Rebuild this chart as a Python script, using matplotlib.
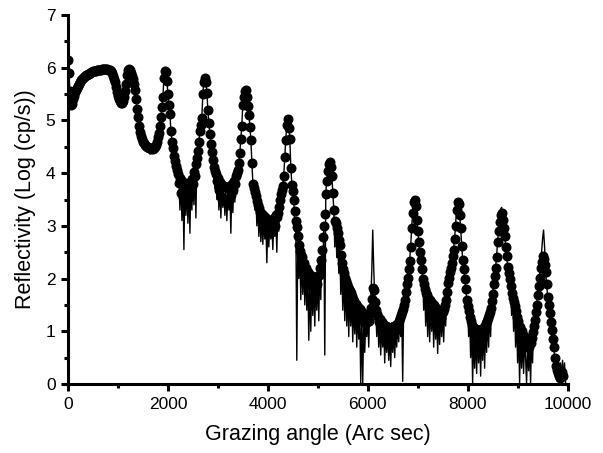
import numpy as np
import matplotlib
matplotlib.use("Agg")
import matplotlib.pyplot as plt
from matplotlib.ticker import MultipleLocator

plt.rcParams['font.family'] = ['Liberation Sans', 'DejaVu Sans']

# Grazing angle grid (arc sec) of the measured scan and of the simulation
meas_step = 20
meas_x = np.arange(0, 9920, meas_step)
sim_x = np.arange(0, 9980, meas_step)

# Measured reflectivity, log(cp/s)
meas_y = [
    6.15, 5.9, 5.55, 5.3, 5.32, 5.4, 5.47, 5.53, 5.58, 5.62, 5.66, 5.7, 5.73, 5.76, 5.78, 5.8, 5.82, 5.84, 5.86, 5.87,
    5.88, 5.89, 5.9, 5.91, 5.92, 5.93, 5.93, 5.94, 5.94, 5.95, 5.95, 5.96, 5.96, 5.96, 5.97, 5.97, 5.97, 5.97, 5.97, 5.97,
    5.96, 5.96, 5.95, 5.93, 5.9, 5.85, 5.79, 5.72, 5.63, 5.54, 5.46, 5.4, 5.36, 5.34, 5.34, 5.37, 5.45, 5.56, 5.7, 5.86,
    5.96, 5.98, 5.95, 5.9, 5.84, 5.78, 5.7, 5.58, 5.4, 5.22, 5.06, 4.9, 4.78, 4.7, 4.64, 4.6, 4.57, 4.54, 4.52, 4.5,
    4.49, 4.48, 4.47, 4.46, 4.47, 4.46, 4.48, 4.5, 4.54, 4.6, 4.68, 4.77, 4.9, 5.06, 5.25, 5.45, 5.8, 5.94, 5.92, 5.75,
    5.5, 5.3, 5.12, 4.8, 4.6, 4.47, 4.33, 4.23, 4.14, 4.06, 3.98, 3.82, 3.9, 3.62, 3.85, 3.55, 3.8, 3.5, 3.78, 3.58,
    3.82, 3.55, 3.8, 3.62, 3.88, 3.8, 4.02, 3.95, 4.18, 4.28, 4.42, 4.6, 4.8, 4.92, 5.05, 5.5, 5.72, 5.8, 5.72, 5.52,
    5.2, 4.95, 4.75, 4.55, 4.4, 4.25, 4.12, 4.05, 3.98, 3.85, 3.9, 3.68, 3.84, 3.55, 3.78, 3.5, 3.76, 3.48, 3.74, 3.5,
    3.72, 3.5, 3.76, 3.58, 3.8, 3.68, 3.86, 3.8, 3.94, 4.0, 4.06, 4.2, 4.38, 4.65, 4.9, 5.3, 5.45, 5.55, 5.57, 5.45,
    5.28, 5.1, 4.88, 4.62, 4.2, 3.8, 3.72, 3.64, 3.56, 3.48, 3.4, 3.33, 3.27, 3.15, 3.22, 3.05, 3.18, 2.95, 3.14, 2.92,
    3.12, 2.9, 3.1, 2.88, 3.12, 2.92, 3.14, 3.0, 3.2, 3.16, 3.24, 3.35, 3.5, 3.6, 3.68, 3.76, 3.95, 4.3, 4.62, 4.92,
    5.02, 4.85, 4.64, 4.1, 3.78, 3.66, 3.5, 3.28, 3.1, 2.98, 2.8, 2.64, 2.52, 2.45, 2.4, 2.3, 2.3, 2.15, 2.2, 2.05,
    2.12, 1.95, 2.06, 1.88, 2.04, 1.85, 2.02, 1.84, 2.02, 1.9, 2.04, 2.06, 2.2, 2.35, 2.55, 2.78, 3.0, 3.22, 3.6, 3.85,
    4.05, 4.18, 4.22, 4.12, 3.95, 3.62, 3.3, 3.1, 3.05, 2.95, 2.86, 2.74, 2.64, 2.45, 2.3, 2.18, 2.1, 2.02, 1.96, 1.9,
    1.84, 1.8, 1.77, 1.72, 1.66, 1.62, 1.57, 1.5, 1.52, 1.4, 1.46, 1.32, 1.42, 1.26, 1.36, 1.2, 1.3, 1.15, 1.26, 1.18,
    1.28, 1.2, 1.35, 1.45, 1.62, 1.82, 1.78, 1.55, 1.4, 1.32, 1.28, 1.18, 1.24, 1.1, 1.18, 1.02, 1.12, 0.98, 1.1, 0.96,
    1.08, 0.94, 1.06, 0.92, 1.08, 0.96, 1.1, 1.0, 1.12, 1.12, 1.15, 1.2, 1.25, 1.3, 1.36, 1.42, 1.5, 1.6, 1.74, 1.9,
    2.02, 2.18, 2.34, 2.6, 2.95, 3.25, 3.45, 3.5, 3.38, 3.12, 2.9, 2.7, 2.5, 2.36, 2.18, 2.0, 1.9, 1.8, 1.73, 1.68,
    1.63, 1.55, 1.6, 1.45, 1.54, 1.38, 1.5, 1.3, 1.44, 1.26, 1.4, 1.24, 1.38, 1.26, 1.4, 1.36, 1.42, 1.5, 1.6, 1.75,
    1.92, 2.02, 2.12, 2.2, 2.3, 2.42, 2.55, 2.75, 3.0, 3.3, 3.46, 3.42, 3.2, 2.95, 2.62, 2.35, 2.18, 2.0, 1.8, 1.6,
    1.48, 1.38, 1.28, 1.2, 1.12, 1.0, 1.06, 0.88, 1.04, 0.84, 1.02, 0.82, 1.02, 0.86, 1.04, 0.92, 1.08, 1.1, 1.15, 1.2,
    1.25, 1.3, 1.36, 1.45, 1.58, 1.7, 1.9, 2.05, 2.2, 2.4, 2.7, 2.9, 3.08, 3.2, 3.25, 3.12, 2.95, 2.8, 2.6, 2.42,
    2.22, 2.1, 2.0, 1.85, 1.72, 1.64, 1.56, 1.48, 1.38, 1.28, 1.2, 1.1, 1.08, 0.92, 1.0, 0.8, 0.92, 0.72, 0.86, 0.7,
    0.84, 0.7, 0.86, 0.78, 0.88, 0.98, 1.1, 1.22, 1.36, 1.5, 1.68, 1.85, 2.02, 2.2, 2.32, 2.42, 2.38, 2.25, 2.12, 1.9,
    1.65, 1.5, 1.34, 1.18, 1.02, 0.85, 0.7, 0.5, 0.35, 0.26, 0.2, 0.15, 0.12, 0.18, 0.22, 0.15,
]

# Simulated reflectivity, log(cp/s)
sim_y = [
    6.2, 5.9, 5.5, 5.28, 5.3, 5.38, 5.46, 5.52, 5.57, 5.62, 5.66, 5.7, 5.73, 5.76, 5.78, 5.8, 5.82, 5.84, 5.86, 5.87,
    5.88, 5.89, 5.9, 5.91, 5.92, 5.93, 5.93, 5.94, 5.94, 5.95, 5.95, 5.96, 5.96, 5.96, 5.97, 5.97, 5.97, 5.97, 5.97, 5.97,
    5.96, 5.96, 5.95, 5.93, 5.9, 5.85, 5.79, 5.72, 5.63, 5.54, 5.46, 5.4, 5.36, 5.33, 5.34, 5.37, 5.45, 5.56, 5.7, 5.86,
    5.97, 6.0, 5.96, 5.9, 5.84, 5.78, 5.7, 5.58, 5.4, 5.22, 5.06, 4.9, 4.78, 4.7, 4.62, 4.6, 4.5, 4.57, 4.45, 4.52,
    4.4, 4.5, 4.36, 4.48, 4.38, 4.47, 4.4, 4.5, 4.45, 4.6, 4.68, 4.77, 4.9, 5.06, 5.25, 5.45, 5.82, 5.97, 5.95, 5.75,
    5.5, 5.3, 5.12, 4.8, 4.6, 4.47, 4.33, 4.23, 4.1, 4.06, 3.85, 3.92, 3.3, 3.88, 3.1, 3.85, 2.55, 3.82, 3.2, 3.78,
    3.05, 3.8, 2.86, 3.84, 3.3, 3.97, 3.4, 4.12, 3.15, 4.3, 4.44, 4.62, 4.8, 4.93, 5.08, 5.52, 5.75, 5.84, 5.74, 5.52,
    5.2, 4.95, 4.75, 4.55, 4.4, 4.25, 4.12, 3.7, 3.98, 3.5, 3.88, 3.3, 3.8, 3.15, 3.74, 3.35, 3.7, 3.2, 3.68, 3.1,
    3.66, 3.3, 3.68, 2.86, 3.74, 3.25, 3.84, 3.45, 3.96, 3.6, 4.08, 4.22, 4.4, 4.67, 4.92, 5.32, 5.48, 5.58, 5.6, 5.47,
    5.3, 5.12, 4.9, 4.63, 4.22, 3.82, 3.74, 3.3, 3.58, 3.0, 3.42, 2.8, 3.3, 2.7, 3.2, 2.65, 3.14, 2.75, 3.1, 2.3,
    3.06, 2.6, 3.04, 2.75, 3.06, 2.55, 3.08, 2.8, 3.14, 2.5, 3.28, 2.9, 3.52, 3.62, 3.7, 3.78, 3.98, 4.32, 4.65, 4.95,
    5.06, 4.88, 4.66, 4.12, 3.8, 3.68, 3.52, 2.9, 3.12, 0.45, 2.82, 2.0, 2.54, 1.6, 2.42, 1.7, 2.3, 1.5, 2.2, 1.4,
    2.12, 0.83, 2.04, 1.0, 2.0, 1.3, 1.98, 1.1, 1.97, 1.4, 2.02, 1.2, 2.22, 1.6, 2.58, 2.0, 3.02, 0.55, 3.62, 3.88,
    4.08, 4.22, 4.26, 4.15, 3.97, 3.64, 3.32, 2.6, 3.07, 2.4, 2.88, 2.1, 2.66, 1.7, 2.32, 1.4, 2.12, 1.2, 1.98, 1.1,
    1.86, 0.9, 1.79, 1.1, 1.68, 0.8, 1.59, 0.95, 1.52, 0.7, 1.46, 0.85, 1.4, 0.0, 1.32, 0.02, 1.26, 0.6, 1.22, 0.9,
    1.28, 0.7, 1.45, 1.6, 2.1, 2.92, 2.2, 1.6, 1.42, 0.9, 1.3, 0.7, 1.22, 0.55, 1.14, 0.7, 1.08, 0.4, 1.04, 0.6,
    1.02, 0.45, 1.0, 0.33, 1.02, 0.6, 1.04, 0.5, 1.08, 0.7, 1.17, 0.8, 1.27, 0.9, 1.38, 0.05, 1.52, 1.62, 1.76, 1.92,
    2.04, 2.2, 2.36, 2.62, 2.97, 3.28, 3.5, 3.55, 3.4, 3.14, 2.92, 2.72, 2.52, 2.38, 2.2, 2.02, 1.4, 1.82, 1.1, 1.7,
    0.9, 1.62, 0.8, 1.55, 1.0, 1.48, 0.7, 1.42, 0.85, 1.36, 0.58, 1.35, 0.75, 1.34, 0.9, 1.38, 0.8, 1.52, 1.1, 1.77,
    1.94, 2.04, 2.14, 2.22, 2.32, 2.44, 2.57, 2.78, 3.04, 3.34, 3.5, 3.45, 3.22, 2.97, 2.64, 2.37, 2.2, 2.02, 1.82, 1.62,
    1.5, 0.9, 1.3, 0.5, 1.14, 0.0, 1.02, 0.3, 1.0, 0.2, 0.97, 0.4, 0.96, 0.15, 1.0, 0.45, 1.07, 0.3, 1.17, 0.6,
    1.27, 0.7, 1.38, 0.9, 1.6, 1.72, 1.92, 2.07, 2.22, 2.42, 2.72, 2.94, 3.15, 3.32, 3.35, 3.16, 2.97, 2.82, 2.62, 2.44,
    2.24, 2.12, 2.02, 1.87, 1.3, 1.66, 1.0, 1.5, 0.7, 1.3, 0.4, 1.14, 0.0, 1.0, 0.3, 0.9, 0.2, 0.82, 0.5, 0.0,
    0.78, 0.25, 0.8, 0.0, 0.9, 0.4, 1.12, 1.24, 1.38, 1.52, 1.7, 1.87, 2.05, 2.25, 2.5, 2.75, 2.92, 2.6, 2.15, 1.92,
    1.67, 1.52, 1.36, 1.2, 1.04, 0.87, 0.72, 0.52, 0.37, 0.28, 0.1, 0.35, 0.0, 0.4, 0.05, 0.45, 0.1, 0.4, 0.0,
]

x_ticks = [0, 2000, 4000, 6000, 8000, 10000]
y_ticks = [0, 1, 2, 3, 4, 5, 6, 7]

fig = plt.figure(figsize=(6.03, 4.53), dpi=100)
ax = fig.add_axes([0.1128, 0.1523, 0.8284, 0.8146])

ax.plot(sim_x, sim_y, color='black', lw=1.0, zorder=2)
ax.plot(meas_x, meas_y, linestyle='none', marker='o', markersize=6.2,
        markerfacecolor='black', markeredgecolor='black', zorder=3)

ax.set_xlim(0, 10000)
ax.set_ylim(0, 7)
ax.set_xticks(x_ticks)
ax.set_yticks(y_ticks)
ax.set_xticklabels([str(v) for v in x_ticks])
ax.set_yticklabels([str(v) for v in y_ticks])
ax.xaxis.set_minor_locator(MultipleLocator(1000))
ax.yaxis.set_minor_locator(MultipleLocator(0.5))

for s in ['top', 'right']:
    ax.spines[s].set_visible(False)
for s in ['left', 'bottom']:
    ax.spines[s].set_linewidth(2.2)

ax.tick_params(which='major', direction='out', length=5, width=2.2, labelsize=12.5, pad=4)
ax.tick_params(which='minor', direction='out', length=3, width=2.2)

ax.set_xlabel('Grazing angle (Arc sec)', fontsize=15.5, labelpad=9)
ax.set_ylabel('Reflectivity (Log (cp/s))', fontsize=15.5, labelpad=7)

fig.savefig('out.png', dpi=100)
